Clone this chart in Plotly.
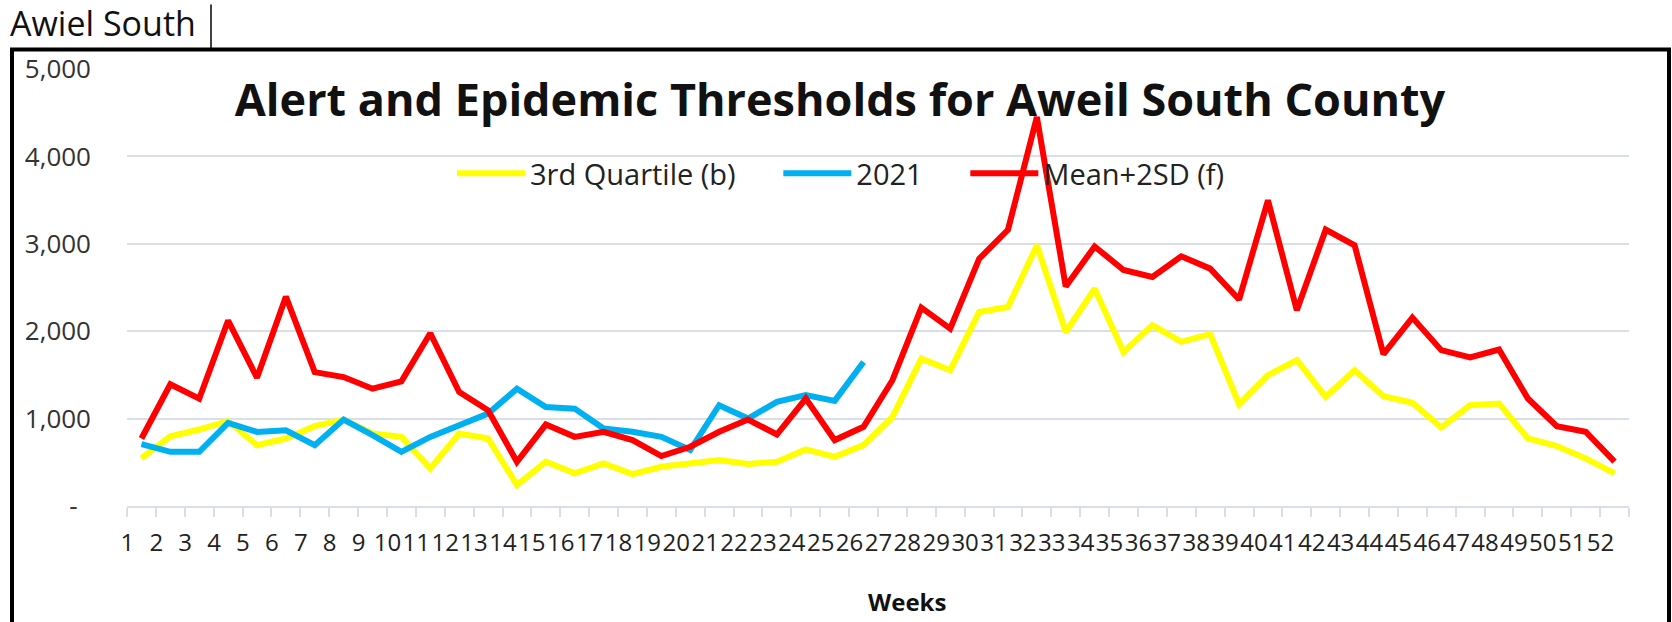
import plotly.graph_objects as go

weeks = [str(w) for w in range(1, 53)]

q3_values = [544, 798, 875, 973, 696, 772, 913, 989, 829, 791, 430, 829, 772, 240,
             506, 373, 487, 365, 449, 480, 525, 480, 506, 647, 563, 697, 1020, 1686,
             1553, 2219, 2276, 2981, 1991, 2486, 1763, 2069, 1878, 1966, 1166, 1497,
             1669, 1250, 1554, 1257, 1181, 899, 1154, 1173, 773, 686, 545, 373]

y2021_values = [707, 620, 620, 951, 848, 867, 696, 989, 810, 620, 791, 924, 1057, 1342,
                1133, 1114, 887, 849, 792, 640, 1153, 1001, 1191, 1268, 1203, 1648]

mean2sd_values = [772, 1392, 1228, 2122, 1468, 2395, 1532, 1475, 1342, 1426, 1977, 1304,
                  1095, 506, 932, 791, 849, 754, 571, 678, 849, 990, 818, 1230, 754, 906,
                  1439, 2269, 2029, 2828, 3160, 4450, 2512, 2969, 2700, 2621, 2857, 2716,
                  2362, 3497, 2240, 3162, 2983, 1737, 2156, 1783, 1699, 1790, 1230, 914,
                  850, 507]

series_names = ["3rd Quartile (b)", "2021", "Mean+2SD (f)"]

y_tickvals = [0, 1000, 2000, 3000, 4000, 5000]
y_ticktext = ["-\u00a0\u00a0", "1,000", "2,000", "3,000", "4,000", "5,000"]

W, H = 1672, 622
L, R, T, B = 127, 43, 68.5, 116
PW, PH = W - L - R, H - T - B


def px(x):
    return (x - L) / PW


def py(y):
    return (H - B - y) / PH


pad = "\u00a0" * 5

fig = go.Figure()
fig.add_trace(go.Scatter(x=weeks, y=q3_values, mode="lines", name=series_names[0] + pad,
                         line=dict(color="#FFFF00", width=6)))
fig.add_trace(go.Scatter(x=weeks[:len(y2021_values)], y=y2021_values, mode="lines",
                         name=series_names[1] + pad, line=dict(color="#00B0F0", width=6)))
fig.add_trace(go.Scatter(x=weeks, y=mean2sd_values, mode="lines", name=series_names[2],
                         line=dict(color="#FF0000", width=6)))

grid = "#DADEE6"
fig.update_layout(
    width=W, height=H,
    margin=dict(l=L, r=R, t=T, b=B),
    paper_bgcolor="white", plot_bgcolor="white",
    font=dict(family="Open Sans, sans-serif", color="#222222"),
    title=dict(text="<b>Alert and Epidemic Thresholds for Aweil South County</b>",
               font=dict(family="Open Sans, sans-serif", size=45, color="#111111"),
               x=px(840), xref="paper", xanchor="center",
               y=1 - 100 / H, yref="container", yanchor="middle"),
    legend=dict(orientation="h", x=px(452), xanchor="left", y=py(173), yanchor="middle",
                font=dict(size=29, color="#222222"), bgcolor="rgba(0,0,0,0)",
                itemwidth=68),
    showlegend=True,
)
fig.update_xaxes(type="category", tickson="boundaries", ticks="outside", ticklen=9,
                 tickwidth=2, tickcolor=grid, showline=True, linecolor=grid, linewidth=2,
                 showgrid=False, tickangle=0, ticklabelshift=-14, ticklabelstandoff=14,
                 tickmode="linear", dtick=1,
                 tickfont=dict(family="Open Sans, sans-serif", size=24, color="#222222"),
                 range=[-0.5, 51.5])
fig.update_yaxes(range=[0, 5000], tickvals=y_tickvals, ticktext=y_ticktext,
                 showgrid=True, gridcolor=grid, gridwidth=2, zeroline=False,
                 showline=False, ticklabelstandoff=35,
                 tickfont=dict(size=26, color="#333333"))

fig.add_annotation(text="<b>Weeks</b>", xref="paper", yref="paper", x=px(907), y=py(602),
                   xanchor="center", yanchor="middle", showarrow=False,
                   font=dict(size=24, color="#111111"))
fig.add_annotation(text="Awiel South", xref="paper", yref="paper", x=px(8), y=py(22),
                   xanchor="left", yanchor="middle", showarrow=False,
                   font=dict(size=34, color="#111111"))

# document frame and text cursor
fig.add_shape(type="rect", xref="paper", yref="paper", x0=px(12), x1=px(1669),
              y0=py(640), y1=py(49), line=dict(color="black", width=4),
              fillcolor="rgba(0,0,0,0)", layer="above")
fig.add_shape(type="line", xref="paper", yref="paper", x0=px(211), x1=px(211),
              y0=py(4), y1=py(48), line=dict(color="black", width=1.5))

fig.write_html("out.html", config={"displayModeBar": False},
               post_script="document.body.style.margin='0';")
